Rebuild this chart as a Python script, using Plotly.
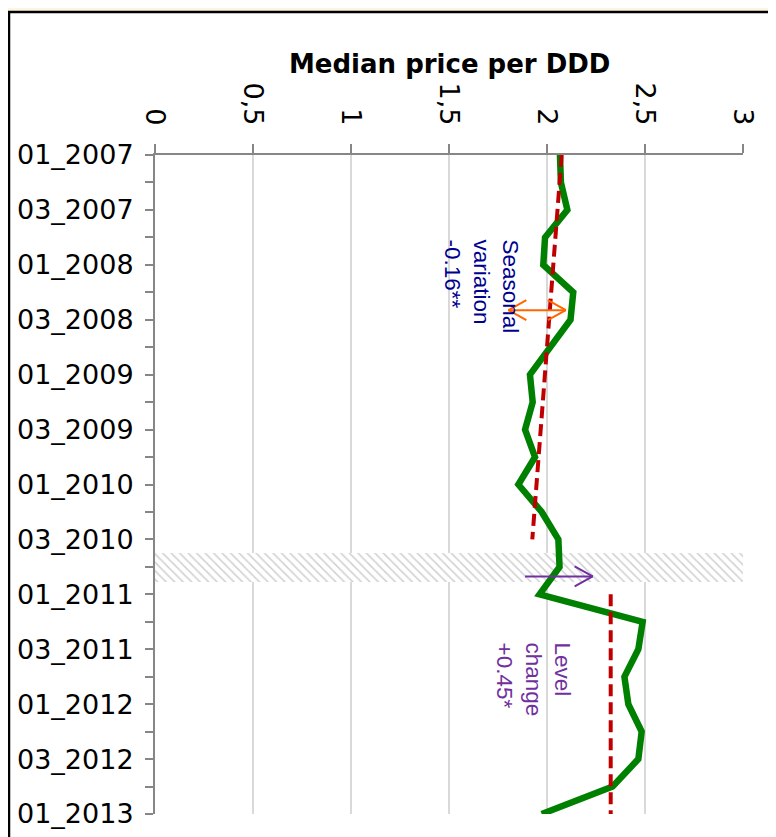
import plotly.graph_objects as go

# ---- data ----
periods = ["01_2007", "02_2007", "03_2007", "04_2007",
           "01_2008", "02_2008", "03_2008", "04_2008",
           "01_2009", "02_2009", "03_2009", "04_2009",
           "01_2010", "02_2010", "03_2010", "04_2010",
           "01_2011", "02_2011", "03_2011", "04_2011",
           "01_2012", "02_2012", "03_2012", "04_2012",
           "01_2013"]
median_price = [2.066, 2.071, 2.104, 1.990, 1.981, 2.134, 2.120, 2.015,
                1.913, 1.927, 1.888, 1.939, 1.854, 1.973, 2.058, 2.064,
                1.962, 2.488, 2.466, 2.395, 2.415, 2.483, 2.466, 2.335,
                1.973]
trend_pre_periods = ["01_2007", "03_2010"]
trend_pre_values = [2.075, 1.925]
trend_post_periods = ["01_2011", "01_2013"]
trend_post_values = [2.325, 2.325]
transition_period = ["04_2010"]
x_tickvals = [0, 0.5, 1, 1.5, 2, 2.5, 3]
x_ticktext = ["0", "0,5", "1", "1,5", "2", "2,5", "3"]
y_ticktext = [p if i % 2 == 0 else "" for i, p in enumerate(periods)]

# plot area in figure pixels (page offset of 8px accounted for)
L, R, T, B = 147, 735, 147, 806
W, H = 776, 837
PW, PH = R - L, B - T

fig = go.Figure()

# hatched transition band
fig.add_trace(go.Bar(
    y=transition_period, x=[3], base=0, orientation="h",
    width=1.05, offset=-0.5,
    marker=dict(color="white", line=dict(width=0),
                pattern=dict(shape="\\", fgcolor="#cfcfcf", bgcolor="white",
                             size=6, solidity=0.25, fillmode="replace")),
    hoverinfo="skip", showlegend=False))

fig.add_trace(go.Scatter(
    x=median_price, y=periods, mode="lines",
    line=dict(color="#008000", width=6.5), showlegend=False))

fig.add_trace(go.Scatter(
    x=trend_pre_values + [None] + trend_post_values,
    y=trend_pre_periods + [None] + trend_post_periods,
    mode="lines", connectgaps=False,
    line=dict(color="#c00000", width=4, dash="12px,6px"), showlegend=False))

shapes = []
# white framed box
shapes.append(dict(type="rect", xref="paper", yref="paper",
                   x0=(1 - L) / PW, x1=(762.5 - L) / PW,
                   y0=(B - (H + 20)) / PH, y1=(B - 4) / PH,
                   fillcolor="white", line=dict(color="black", width=2.5),
                   layer="below"))


def arrow_line(x0, x1, y, color):
    shapes.append(dict(type="line", xref="x", yref="y", x0=x0, x1=x1, y0=y, y1=y,
                       line=dict(color=color, width=2)))


def arrow_head(x_tip, y, direction, color):
    for dy in (10, -10):
        shapes.append(dict(type="line", xref="x", yref="y",
                           xsizemode="pixel", ysizemode="pixel",
                           xanchor=x_tip, yanchor=y,
                           x0=0, x1=-18 * direction, y0=0, y1=dy,
                           line=dict(color=color, width=2)))


# seasonal variation arrow (double headed)
arrow_line(1.803, 2.096, 5.65, "#ff6600")
arrow_head(2.096, 5.65, 1, "#ff6600")
arrow_head(1.803, 5.65, -1, "#ff6600")
# level change arrow
arrow_line(1.888, 2.233, 15.35, "#7030a0")
arrow_head(2.233, 15.35, 1, "#7030a0")

annotations = [
    dict(text="<b>Median price per DDD</b>", xref="paper", yref="paper",
         x=0.5, y=(B - 56) / PH, xanchor="center", yanchor="middle",
         showarrow=False, font=dict(family="DejaVu Sans", size=26, color="black")),
    dict(text="Seasonal<br>variation<br>-0.16**", xref="x", yref="y",
         x=1.663, y=3.0, xanchor="center", yanchor="top", textangle=90,
         align="left", showarrow=False,
         font=dict(family="Liberation Sans", size=22.5, color="#000090")),
    dict(text="Level<br>change<br>+0.45*", xref="x", yref="y",
         x=1.931, y=17.7, xanchor="center", yanchor="top", textangle=90,
         align="left", showarrow=False,
         font=dict(family="Liberation Sans", size=22.5, color="#7030a0")),
]

fig.update_layout(
    width=W, height=H,
    margin=dict(l=L, r=W - R, t=T, b=H - B, autoexpand=False),
    paper_bgcolor="#fdf5e0", plot_bgcolor="rgba(0,0,0,0)",
    shapes=shapes, annotations=annotations, bargap=0,
    xaxis=dict(side="top", range=[0, 3], tickvals=x_tickvals, ticktext=x_ticktext,
               tickangle=90, ticks="outside", ticklen=9, tickcolor="#868686",
               tickwidth=1.5, showline=True, linecolor="#868686", linewidth=2,
               showgrid=True, gridcolor="#d9d9d9", gridwidth=1.5, zeroline=False,
               tickfont=dict(family="DejaVu Sans", size=27, color="black"),
               ticklabelstandoff=9, fixedrange=True),
    yaxis=dict(type="category", categoryorder="array", categoryarray=periods,
               range=[24, 0], tickmode="array", tickvals=periods, ticktext=y_ticktext,
               ticks="outside", ticklen=8, tickcolor="#868686", tickwidth=1.5,
               showline=True, linecolor="#868686", linewidth=2, showgrid=False,
               zeroline=False,
               tickfont=dict(family="DejaVu Sans", size=27, color="black"),
               ticklabelstandoff=6, fixedrange=True),
)

fig.write_html("out.html")
